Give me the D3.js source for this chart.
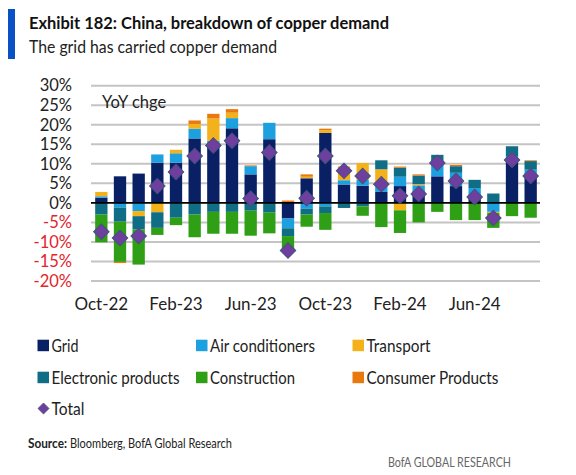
<!DOCTYPE html>
<html>
<head>
<meta charset="utf-8">
<script src="https://cdn.jsdelivr.net/npm/d3@7"></script>
<style>
  html, body { margin: 0; padding: 0; background: #fff; }
  svg { display: block; font-family: Lato, "Open Sans", "Liberation Sans", sans-serif; }
</style>
</head>
<body>
<svg id="chart" width="576" height="475"></svg>
<script>
// ---------- DATA ----------
const months = ["Oct-22","Nov-22","Dec-22","Jan-23","Feb-23","Mar-23","Apr-23","May-23","Jun-23","Jul-23","Aug-23","Sep-23",
                "Oct-23","Nov-23","Dec-23","Jan-24","Feb-24","Mar-24","Apr-24","May-24","Jun-24","Jul-24","Aug-24","Sep-24"];
const tickMonths = ["Oct-22","Feb-23","Jun-23","Oct-23","Feb-24","Jun-24"];
const yTicks = [30, 25, 20, 15, 10, 5, 0, -5, -10, -15, -20];

const grid         = [1.3, 6.8, 7.5, 10.3, 10.3, 16.5, 15.3, 19.1, 7.3, 16.3, -4.0, 6.3, 17.9, 4.7, 4.4, 2.8, 4.3, 3.0, 6.8, 4.3, 1.7, 0.0, 11.0, 7.0];
const air          = [0.4, -1.2, -2.1, 2.1, 2.4, 2.5, 0.6, 2.6, 2.1, 4.2, -2.5, -1.5, -0.9, 1.1, 1.5, 1.5, 2.4, 1.5, 3.8, 3.4, 2.1, -2.3, 1.0, 1.5];
const transport    = [1.1, 0.0, -1.3, -2.4, 0.9, 1.2, 5.7, 1.4, 0.0, 0.0, 0.0, 0.4, 0.7, 3.2, 4.3, 4.3, -1.9, 0.3, 0.0, 0.0, 0.0, -0.3, 0.0, 0.0];
const electronic   = [-3.0, -3.6, -3.4, -4.0, -3.8, -3.0, -2.3, -2.3, -2.0, -2.5, -2.0, -1.5, -1.7, -1.3, -0.9, 2.3, 2.3, 2.2, 1.7, 1.7, 2.1, 2.4, 2.5, 2.2];
const construction = [-7.1, -10.3, -9.0, -1.8, -1.9, -5.8, -5.6, -5.6, -6.4, -5.3, -3.4, -3.1, -4.3, 0.0, -2.4, -6.2, -5.8, -5.0, -2.3, -4.4, -4.4, -3.8, -3.4, -3.8];
const consumer     = [0.0, -0.3, 0.0, 0.0, 0.0, 0.9, 1.2, 0.9, 0.2, 0.0, 0.6, 0.6, 0.4, 0.3, 0.0, 0.0, 0.3, 0.3, 0.0, 0.3, 0.0, 0.0, 0.0, 0.2];
const total        = [-7.4, -9.0, -8.5, 4.3, 7.9, 12.0, 14.7, 15.9, 1.1, 12.9, -12.2, 1.2, 12.0, 8.2, 6.9, 4.8, 1.8, 2.3, 10.2, 5.6, 1.5, -3.9, 11.0, 6.9];

const seriesNames  = ["Grid", "Air conditioners", "Transport", "Electronic products", "Construction", "Consumer Products"];
const seriesColors = ["#0a2065", "#1ca0e0", "#f4b21a", "#0f6e85", "#2f9f16", "#e8790f"];
const totalColor = "#6f3f9f";

// ---------- BUILD ----------
const seriesData = [grid, air, transport, electronic, construction, consumer];
const keys = seriesNames;
const rows = months.map((m, i) => {
  const r = { month: m };
  keys.forEach((k, j) => r[k] = seriesData[j][i]);
  return r;
});

const svg = d3.select("#chart");

// header
svg.append("rect").attr("x", 8).attr("y", 9).attr("width", 7).attr("height", 50).attr("fill", "#0a50c6");

function fit(sel, w) {
  sel.attr("textLength", w).attr("lengthAdjust", "spacingAndGlyphs");
}
svg.append("text").attr("x", 29).attr("y", 29)
  .attr("font-size", 17).attr("font-weight", 700).attr("fill", "#111")
  .text("Exhibit 182: China, breakdown of copper demand").call(fit, 360);
svg.append("text").attr("x", 29).attr("y", 52.5)
  .attr("font-size", 16.5).attr("fill", "#222")
  .text("The grid has carried copper demand").call(fit, 248);

// scales
const x = d3.scaleBand().domain(months).range([92, 540]).paddingInner(0.34).paddingOuter(0.17);
const y = d3.scaleLinear().domain([-20, 30]).range([281, 85.7]);

// gridlines
svg.append("g").selectAll("line").data(yTicks.filter(d => d !== 0)).join("line")
  .attr("x1", 91).attr("x2", 540)
  .attr("y1", d => y(d)).attr("y2", d => y(d))
  .attr("stroke", "#c4c4c4").attr("stroke-width", 2);

// y labels
svg.append("g").selectAll("text").data(yTicks).join("text")
  .attr("x", 72).attr("y", d => y(d)).attr("dy", "0.35em")
  .attr("text-anchor", "end").attr("font-size", 16.5)
  .attr("fill", d => d < 0 ? "#e3242b" : "#222")
  .text(d => d + "%");

// YoY label
svg.append("text").attr("x", 102).attr("y", 108).attr("font-size", 16.5).attr("fill", "#222").text("YoY chge");

// stacked bars
const stack = d3.stack().keys(keys).offset(d3.stackOffsetDiverging);
const stacked = stack(rows);
const layers = svg.append("g").selectAll("g").data(stacked).join("g")
  .attr("fill", (d, i) => seriesColors[i]);
layers.selectAll("rect").data(d => d).join("rect")
  .attr("x", d => x(d.data.month))
  .attr("width", x.bandwidth())
  .attr("y", d => y(Math.max(d[0], d[1])))
  .attr("height", d => Math.abs(y(d[0]) - y(d[1])));

// zero line
svg.append("line").attr("x1", 91).attr("x2", 540).attr("y1", y(0)).attr("y2", y(0))
  .attr("stroke", "#000").attr("stroke-width", 1.8);

// total diamonds
const diamond = d3.symbol().type(d3.symbolSquare).size(120);
svg.append("g").selectAll("path").data(total).join("path")
  .attr("d", diamond)
  .attr("transform", (d, i) => `translate(${x(months[i]) + x.bandwidth() / 2},${y(d)}) rotate(45)`)
  .attr("fill", totalColor).attr("stroke", "#45507e").attr("stroke-width", 1);

// x axis labels
const xAxis = d3.axisBottom(x).tickValues(tickMonths).tickSize(0).tickPadding(0);
const xg = svg.append("g").attr("transform", "translate(0,296)").call(xAxis);
xg.select(".domain").remove();
xg.selectAll("text").attr("font-size", 17).attr("fill", "#222")
  .attr("font-family", "Lato, 'Open Sans', sans-serif").attr("dy", "0.8em");

// legend
const legendItems = [
  { name: "Grid", col: 0, row: 0, w: 27 },
  { name: "Air conditioners", col: 1, row: 0, w: 105 },
  { name: "Transport", col: 2, row: 0, w: 64 },
  { name: "Electronic products", col: 0, row: 1, w: 128 },
  { name: "Construction", col: 1, row: 1, w: 85 },
  { name: "Consumer Products", col: 2, row: 1, w: 132 }
];
const colX = [37.5, 196, 352.5];
const rowY = [345.5, 377.5, 408.5];
const lg = svg.append("g");
legendItems.forEach((it, i) => {
  lg.append("rect").attr("x", colX[it.col]).attr("y", rowY[it.row] - 5.8)
    .attr("width", 11.5).attr("height", 11.5).attr("fill", seriesColors[i]);
  lg.append("text").attr("x", colX[it.col] + 14).attr("y", rowY[it.row]).attr("dy", "0.36em")
    .attr("font-size", 17.5).attr("fill", "#222").text(it.name).call(fit, it.w);
});
lg.append("path").attr("d", d3.symbol().type(d3.symbolSquare).size(60))
  .attr("transform", `translate(${colX[0] + 6},${rowY[2]}) rotate(45)`)
  .attr("fill", totalColor).attr("stroke", "#45507e").attr("stroke-width", 0.8);
lg.append("text").attr("x", colX[0] + 14).attr("y", rowY[2]).attr("dy", "0.36em")
  .attr("font-size", 17.5).attr("fill", "#222").text("Total").call(fit, 33);

// source
svg.append("text").attr("x", 28).attr("y", 447.5).attr("font-size", 13).attr("font-weight", 700)
  .attr("fill", "#222").text("Source:").call(fit, 39);
svg.append("text").attr("x", 70).attr("y", 447.5).attr("font-size", 13)
  .attr("fill", "#222").text("Bloomberg, BofA Global Research").call(fit, 162);

svg.append("text").attr("x", 511).attr("y", 467).attr("text-anchor", "end")
  .attr("font-size", 13).attr("fill", "#666").text("BofA GLOBAL RESEARCH").call(fit, 123);
</script>
</body>
</html>
